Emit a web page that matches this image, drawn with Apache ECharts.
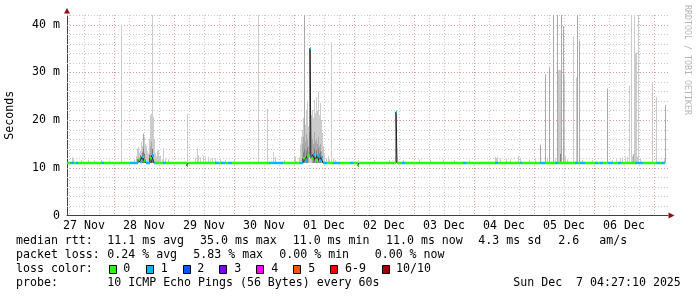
<!DOCTYPE html>
<html><head><meta charset="utf-8">
<script src="https://cdn.jsdelivr.net/npm/echarts@6/dist/echarts.min.js"></script>
<style>html,body{margin:0;padding:0;background:#fff}#c{width:697px;height:297px}</style>
</head><body><div id="c"></div>
<script>
// ---------- data (hours since 27 Nov 00:00, values in ms) ----------
const dayLabels = ['27 Nov','28 Nov','29 Nov','30 Nov','01 Dec','02 Dec','03 Dec','04 Dec','05 Dec','06 Dec'];
const dayLabelHours = [12,36,60,84,108,132,156,180,204,228];
const majorXGrid = [24,48,72,96,120,144,168,192,216,240];
const minorXGrid = [6,12,18,30,36,42,54,60,66,78,84,90,102,108,114,126,132,138,150,156,162,174,180,186,198,204,210,222,228,234];
const majorYGrid = [10,20,30,40];
const minorYGrid = [2,4,6,8,12,14,16,18,22,24,26,28,32,34,36,38,42];
const xStart = 5.2, xEnd = 245.6, dataEnd = 244.4, stepHours = 0.4;
const yMax = 42;

// median RTT change points [hour, ms]
const medianSteps = [
  [5.2,11.0],
  [33.6,11.8],[34.4,11.2],[35.2,12.3],[36.0,11.5],[36.8,11.0],[38.4,12.0],[39.2,12.5],[40.0,11.0],
  [53.2,10.4],[53.6,11.0],
  [99.6,12.0],[100.4,11.5],[101.2,12.5],[102.4,35.0],[102.8,12.0],[103.6,12.8],[104.4,11.6],[105.2,12.5],[106.0,11.5],[106.8,12.2],[107.6,11.0],
  [121.6,10.4],[122.0,11.0],
  [136.8,21.7],[137.2,11.0]
];
// lost pings change points [hour, lost of 10]
const lossSteps = [
  [5.2,0],[6.6,1],[8.0,0],[8.8,1],[9.7,0],[19.1,1],[20.0,0],
  [30.4,1],[33.6,0],[34.4,1],[35.6,0],[36.4,1],[38.4,0],[39.2,1],[40.4,0],[43.6,1],[44.6,0],
  [64.4,1],[66.0,0],[66.8,1],[68.4,0],[69.6,1],[71.2,0],
  [86.0,1],[91.6,0],
  [98.4,1],[99.6,0],[100.4,1],[101.2,0],[102.4,1],[102.8,0],[103.6,1],[104.4,0],[105.2,1],[106.0,0],[106.4,1],[109.2,0],
  [111.6,1],[114.4,0],[118.4,1],[119.6,0],
  [136.8,1],[137.2,0],[139.1,1],[140.4,0],[163.6,1],[165.0,0],[176.4,1],[177.6,0],[186.6,1],[187.4,0],
  [194.4,1],[196.4,0],[200.4,1],[201.7,0],[208.4,1],[209.6,0],[210.4,1],[212.4,0],
  [216.4,1],[217.6,0],[218.4,1],[219.6,0],[221.6,1],[223.6,0],[225.6,1],[227.0,0],
  [232.4,1],[235.6,0],[241.0,1],[242.4,0],[242.8,1]
];
// smoke columns [hour, low ms, high ms, shade 0 light .. 3 dark]
const smoke = [
  [7.2,11,12.2,0],[7.6,11,11.8,0],[10.8,11,11.6,0],[13.6,11,11.7,0],[16.0,11,11.6,0],[18.8,11,11.7,0],[22.0,11,11.5,0],
  [26.9,11,40.0,0],
  [32.0,11,11.8,0],[32.8,11,12.5,0],[33.2,11,14.0,0],[33.6,11,14.4,0],[34.0,11,13.2,0],[34.4,11,13.5,0],[34.8,11,15.5,0],[35.2,11,14.6,0],
  [35.6,11,17.2,1],[36.0,11,16.5,0],[36.4,11,15.0,0],[36.8,11,14.5,0],[37.2,11,13.5,0],[37.6,11,13.0,0],[38.0,11,16.0,0],[38.4,11,21.0,0],
  [38.8,11,21.3,0],[39.2,11,42,0],[39.6,11,20.6,0],[40.0,11,16.0,0],[40.4,11,13.0,0],[40.8,11,12.4,0],[41.2,11,13.5,0],[41.6,11,13.7,0],
  [42.0,11,12.3,0],[42.4,11,12.5,0],[43.2,11,11.8,0],[43.6,11,14.2,0],[44.4,11,12.0,0],[45.6,11,11.8,0],
  [34.4,11,12.6,2],[35.2,11,13.2,2],[35.6,11,14.0,2],[36.0,11,13.0,2],[38.0,11,12.8,2],[38.4,11,14.5,1],[38.8,11,15.5,1],[39.2,11,14.0,2],[38.8,11,12.6,3],
  [53.3,11,21.3,0],[56.4,11,12.0,0],[57.3,11,14.1,0],[57.6,11,12.6,0],[58.4,11,12.2,0],[59.6,11,12.5,0],[60.4,11,12.3,0],[61.6,11,12.3,0],
  [62.4,11,11.9,0],[63.2,11,12.0,0],[64.4,11,12.0,0],[66.4,11,11.8,0],[68.4,11,11.6,0],[72.0,11,11.6,0],
  [81.6,11,42,0],[85.2,11,22.3,0],[87.7,11,13.3,0],[88.4,11,12.2,0],[92.0,11,11.6,0],[96.0,11,12.5,0],[96.4,11,12.4,0],
  [98.0,11,12.2,0],[98.4,11,14.8,0],[98.8,11,16.5,0],[99.2,11,17.9,0],[99.6,11,20.5,0],[100.0,11,42,1],[100.4,11,19.0,0],[100.8,11,22.1,0],
  [101.2,11,23.8,0],[101.6,11,18.6,0],[102.0,11,17.5,0],[102.4,11,20.0,0],[102.8,11,21.0,0],[103.2,11,22.1,0],[103.6,11,20.5,0],[104.0,11,24.2,0],
  [104.4,11,21.5,0],[104.8,11,24.8,0],[105.2,11,22.0,0],[105.6,11,25.9,0],[106.0,11,21.0,0],[106.4,11,23.6,0],[106.8,11,20.0,0],[107.2,11,17.3,0],
  [107.6,11,14.5,0],[108.0,11,13.1,0],[108.8,11,12.0,0],[109.6,11,12.5,0],[110.0,11,11.8,0],[110.8,11,36.3,0],[111.6,11,12.0,0],[112.4,11,11.7,0],
  [99.2,11,15.0,1],[99.6,11,16.5,1],[100.4,11,15.5,1],[100.8,11,17.0,1],[101.2,11,16.0,1],[101.6,11,14.5,1],[103.2,11,16.0,1],[103.6,11,15.0,1],
  [104.0,11,17.5,1],[104.4,11,15.5,1],[104.8,11,16.0,1],[105.2,11,15.0,1],[105.6,11,16.5,1],[106.0,11,14.5,1],[106.4,11,15.0,1],[106.8,11,13.5,1],
  [99.6,11,13.2,2],[100.0,11,14.0,2],[100.8,11,13.5,2],[101.2,11,14.2,2],[103.6,11,13.2,2],[104.0,11,14.0,2],[104.8,11,13.6,2],[105.6,11,14.0,2],
  [106.0,11,13.0,2],[106.4,11,13.4,2],
  [121.6,11,11.6,0],[128.0,11,11.6,0],[134.0,11,11.7,0],[139.6,11,11.6,0],[146.0,11,11.8,0],[150.4,11,11.6,0],[155.6,11,11.7,0],[160.0,11,11.6,0],
  [166.0,11,11.7,0],[176.4,11,12.3,0],[176.8,11,12.0,0],[177.2,11,12.3,0],[178.4,11,12.0,0],[180.8,11,11.9,0],[182.4,11,11.8,0],[185.6,11,12.5,0],
  [186.4,11,11.9,0],[190.0,11,11.7,0],
  [192.4,11,11.8,0],[194.5,11,14.8,1],[196.5,11,29.6,1],[197.2,11,11.9,0],[198.1,11,31.0,1],[199.7,11,42,1],[200.4,11,12.0,0],[201.5,11,42,1],
  [201.9,11,30.5,0],[202.3,11,30.5,0],[202.7,11,30.5,0],[202.5,11,12.9,2],[203.1,11,42,1],[203.6,11,39.7,1],[204.0,11,29.6,0],[204.4,11,12.5,0],
  [205.2,11,11.8,0],[207.7,11,37.5,0],[209.1,11,28.9,0],[209.5,11,42,1],[210.1,11,36.6,1],[211.2,11,11.7,0],
  [215.2,11,11.7,0],[221.3,11,26.6,1],[223.2,11,11.7,0],[224.8,11,11.8,0],[226.4,11,12.0,0],[227.2,11,12.2,0],[228.4,11,12.3,0],[229.2,11,12.3,0],
  [230.1,11,27.3,0],[230.9,11,42,0],[231.3,11,12.4,0],[231.7,11,12.9,1],[232.1,11,42,0],[232.5,11,34.1,0],[232.9,11,34.1,0],[233.3,11,12.3,0],
  [233.9,11,42,0],[234.4,11,12.0,0],[239.3,11,27.8,0],[240.9,11,24.8,0],[244.0,11,11.8,0],[244.5,11,23.1,1]
];
const lossColors = ['#26ff00','#00b8ff','#0059ff','#7e00ff','#ff00ff','#ff5500','#ff0000','#a10000'];
const lossLabels = ['0','1','2','3','4','5','6-9','10/10'];
const rttStats = ['11.1 ms avg','35.0 ms max','11.0 ms min','11.0 ms now','4.3 ms sd','2.6','am/s'];
const lossStats = ['0.24 % avg','5.83 % max','0.00 % min','0.00 % now'];
const probeText = '10 ICMP Echo Pings (56 Bytes) every 60s';
const stampText = 'Sun Dec  7 04:27:10 2025';
const yAxisName = 'Seconds';
const watermark = 'RRDTOOL / TOBI OETIKER';

// ---------- build ----------
const MONO = 'DejaVu Sans Mono';
const smokeShades = ['#cbcbcb','#a8a8a8','#808080','#505050'];
function valAt(steps, h){ let v = steps[0][1]; for (const s of steps){ if (s[0] <= h + 1e-9) v = s[1]; else break; } return v; }
const breaks = Array.from(new Set([...medianSteps.map(d=>d[0]), ...lossSteps.map(d=>d[0]), dataEnd]))
  .filter(h => h <= dataEnd).sort((a,b)=>a-b);
const segs = [];
for (let i = 0; i < breaks.length - 1; i++){
  const h0 = breaks[i], h1 = breaks[i+1];
  segs.push([h0, h1, valAt(medianSteps, h0), valAt(lossSteps, h0)]);
}
const darkLine = [];
segs.forEach(s => { darkLine.push([s[0], s[2]]); darkLine.push([s[1], s[2]]); });
const smokeSorted = smoke.slice().sort((a,b)=>a[3]-b[3]);
const vGrid = [...minorXGrid.map(h=>[h,0,0]), ...majorXGrid.map(h=>[h,0,1])];
const hGrid = [...minorYGrid.map(v=>[xStart,v,0]), ...majorYGrid.map(v=>[xStart,v,1])];
const gridRed = '#e39a9a', gridGray = '#c8c8c8';

const chart = echarts.init(document.getElementById('c'), null, {renderer:'canvas'});
const graphics = [];
function txt(x, y, t, extra){ graphics.push(Object.assign({type:'text', x, y, silent:true,
  style:{text:t, fontFamily:MONO, fontSize:11.6, fill:'#000', textVerticalAlign:'middle', verticalAlign:'middle'}}, extra||{})); }
txt(16, 241, 'median rtt:');
[107.3,200,292.7,386,478.3,558.3,599.3].forEach((x,i)=>txt(x,241,rttStats[i]));
txt(16, 255, 'packet loss:');
[107.3,193.3,279.3,374.7].forEach((x,i)=>txt(x,255,lossStats[i]));
txt(16, 269, 'loss color:');
const boxX = [109,145.7,182.7,219.3,256.3,293.3,330,381.7];
const labX = [123.3,160.7,197.3,234.3,271.3,308.3,345,396];
lossLabels.forEach((l,i)=>{
  graphics.push({type:'rect', silent:true, shape:{x:Math.round(boxX[i])+0.5, y:265.5, width:7, height:8},
    style:{fill:lossColors[i], stroke:'#000', lineWidth:1}});
  txt(labX[i], 269, l);
});
txt(16, 283, 'probe:');
txt(107.3, 283, probeText);
txt(513.3, 283, stampText);
graphics.push({type:'text', x:691, y:5, rotation:-Math.PI/2, silent:true,
  style:{text:watermark, fontFamily:MONO, fontSize:8.3, fill:'#b4b4b4', textAlign:'left', align:'left', textVerticalAlign:'top', verticalAlign:'top'}});
graphics.push({type:'polygon', silent:true, shape:{points:[[64,13.5],[70,13.5],[67,8]]}, style:{fill:'#8e1010'}});
graphics.push({type:'polygon', silent:true, shape:{points:[[668.5,212.5],[668.5,218.5],[674.5,215.5]]}, style:{fill:'#8e1010'}});

const option = {
  animation:false,
  backgroundColor:'#fff',
  grid:{left:67, right:29, top:15, bottom:81.5, containLabel:false, outerBoundsMode:'none'},
  xAxis:{type:'value', min:xStart, max:xEnd,
    axisLine:{show:true, lineStyle:{color:'#404040', width:1}},
    axisTick:{show:false}, splitLine:{show:false},
    axisLabel:{customValues:dayLabelHours, formatter:v=>{const i=dayLabelHours.indexOf(v); return i>=0?dayLabels[i]:'';},
      fontFamily:MONO, fontSize:11.6, color:'#000', margin:4}},
  yAxis:{type:'value', min:0, max:yMax, interval:10,
    name:yAxisName, nameLocation:'middle', nameRotate:90, nameGap:51,
    nameTextStyle:{fontFamily:MONO, fontSize:11.6, color:'#000'},
    axisLine:{show:true, lineStyle:{color:'#404040', width:1}},
    axisTick:{show:false}, splitLine:{show:false},
    axisLabel:{formatter:v=> v===0 ? '0' : (v%10===0 ? (v+' m') : ''), fontFamily:MONO, fontSize:11.6, color:'#000', margin:7}},
  graphic:graphics,
  series:[
    {type:'custom', z:1, silent:true, data:vGrid, encode:{x:0,y:1},
     renderItem:(p,api)=>{const h=api.value(0); const a=api.coord([h,yMax]), b=api.coord([h,0]); const x=Math.round(a[0])+0.5;
       return {type:'line', shape:{x1:x,y1:a[1],x2:x,y2:b[1]}, style:{stroke:api.value(2)?gridRed:gridGray, lineWidth:1, lineDash:[1,2]}};}},
    {type:'custom', z:1, silent:true, data:hGrid, encode:{x:0,y:1},
     renderItem:(p,api)=>{const v=api.value(1); const a=api.coord([xStart,v]), b=api.coord([xEnd,v]); const y=Math.round(a[1])+0.5;
       return {type:'line', shape:{x1:a[0],y1:y,x2:b[0],y2:y}, style:{stroke:api.value(2)?gridRed:gridGray, lineWidth:1, lineDash:[1,2]}};}},
    {type:'custom', z:2, silent:true, data:smokeSorted, encode:{x:0,y:[1,2]},
     renderItem:(p,api)=>{const h=api.value(0), lo=api.value(1), hi=api.value(2), s=api.value(3);
       const a=api.coord([h,lo]), b=api.coord([h+stepHours,hi]);
       return {type:'rect', shape:{x:Math.floor(a[0]), y:b[1], width:Math.max(1,Math.round(b[0]-a[0])), height:a[1]-b[1]}, style:{fill:smokeShades[s]}};}},
    {type:'line', z:3, silent:true, data:darkLine, showSymbol:false, symbol:'none',
     lineStyle:{color:'#202020', width:1}},
    {type:'custom', z:4, silent:true, data:segs, encode:{x:[0,1],y:2},
     renderItem:(p,api)=>{const h0=api.value(0), h1=api.value(1), v=api.value(2), l=api.value(3);
       const a=api.coord([h0,v]), b=api.coord([h1,v]);
       return {type:'rect', shape:{x:a[0], y:a[1]-1.25, width:Math.max(1,b[0]-a[0]), height:2.5}, style:{fill:lossColors[l]}};}}
  ]
};
chart.setOption(option);
</script></body></html>
